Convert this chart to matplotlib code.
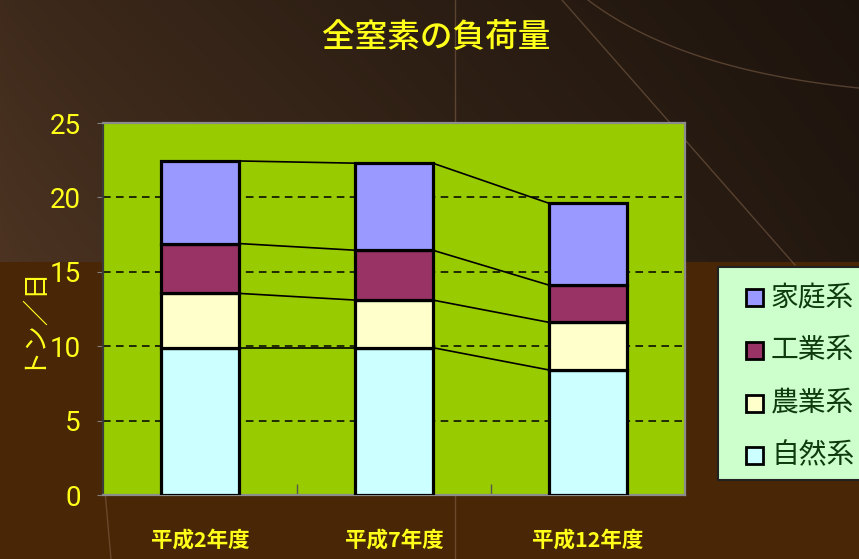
import numpy as np
import matplotlib
matplotlib.use("Agg")
import matplotlib.pyplot as plt
from matplotlib.patches import Rectangle

# ---- data -------------------------------------------------------------
years = ['平成2年度', '平成7年度', '平成12年度']
series_names = ['自然系', '農業系', '工業系', '家庭系']
natural = [9.9, 9.9, 8.4]
agriculture = [3.65, 3.2, 3.2]
industry = [3.35, 3.35, 2.5]
household = [5.55, 5.85, 5.5]
series_colors = ['#CCFFFF', '#FFFFCC', '#993366', '#9999FF']
y_ticks = [0, 5, 10, 15, 20, 25]

CJK = ['Noto Sans CJK JP', 'DejaVu Sans']
DIGITS = ['Roboto', 'DejaVu Sans']
YELLOW = '#FFFF1A'

W, H = 859, 559
fig = plt.figure(figsize=(W / 100, H / 100), dpi=100)

# ---- background --------------------------------------------------------
bg = fig.add_axes([0, 0, 1, 1], zorder=-5)
bg.set_xlim(0, W)
bg.set_ylim(H, 0)
bg.axis('off')
xx = np.linspace(0, 1, W)[None, :, None]
yy = np.linspace(0, 1, 262)[:, None, None]
left_c = np.array([0x4d, 0x34, 0x22]) / 255
right_c = np.array([0x23, 0x18, 0x10]) / 255
upper = left_c * (1 - xx ** 0.8) + right_c * xx ** 0.8
upper = upper * (0.82 + 0.18 * yy)
lower = np.ones((H - 262, W, 3)) * (np.array([0x48, 0x26, 0x06]) / 255)
img = np.concatenate([np.broadcast_to(upper, (262, W, 3)), lower], axis=0)
bg.imshow(np.clip(img, 0, 1), extent=(0, W, H, 0), aspect='auto')

# faint decorative strokes
deco = dict(color='#8a6a50', lw=1.0, alpha=0.5)
bg.plot([562, 795], [0, 265], **deco)
bg.plot([455, 455], [0, 559], **deco)
bg.plot([104, 111], [480, 559], **deco)
t = np.linspace(0, 1, 60)
p0, p1, p2 = np.array([588, 0]), np.array([680, 70]), np.array([859, 88])
curve = (1 - t)[:, None] ** 2 * p0 + 2 * ((1 - t) * t)[:, None] * p1 + t[:, None] ** 2 * p2
bg.plot(curve[:, 0], curve[:, 1], **deco)

# ---- chart -------------------------------------------------------------
ax = fig.add_axes([103 / W, 1 - 495 / H, 582 / W, 372 / H])
ax.set_facecolor('#99CC00')

x = np.arange(len(years))
width = 0.40
stack = [natural, agriculture, industry, household]
bottom = np.zeros(len(years))
tops = []
for vals, col in zip(stack, series_colors):
    vals = np.asarray(vals)
    ax.bar(x, vals, width, bottom=bottom, color=col, edgecolor='black',
           linewidth=2.3, zorder=3)
    bottom = bottom + vals
    tops.append(bottom.copy())

# series lines joining neighbouring bars
for top in tops:
    for i in range(len(years) - 1):
        ax.plot([x[i] + width / 2, x[i + 1] - width / 2], [top[i], top[i + 1]],
                color='black', lw=1.2, zorder=2)

ax.set_xlim(-0.5, len(years) - 0.5)
ax.set_ylim(0, 25)
ax.set_yticks(y_ticks)
ax.set_yticklabels([str(v) for v in y_ticks], color=YELLOW, fontsize=20,
                   family=DIGITS)
for v in y_ticks[1:-1]:
    ax.axhline(v, color='black', lw=1.1, ls=(0, (5, 3.5)), zorder=1)

ax.set_xticks(x)
ax.set_xticklabels(years, color=YELLOW, fontsize=15.5, fontweight='bold',
                   family=CJK)
ax.tick_params(axis='x', length=0, pad=25)
ax.set_xticks(x[:-1] + 0.5, minor=True)
ax.tick_params(axis='x', which='minor', direction='in', length=8,
               color='#555555', width=1)
ax.tick_params(axis='y', length=4, color='#808080', pad=12)

for side in ['top', 'right', 'bottom']:
    ax.spines[side].set_color('#8c8c8c')
    ax.spines[side].set_linewidth(1.6)
ax.spines['left'].set_color('#3a3a3a')
ax.spines['left'].set_linewidth(1.6)

fig.text(30 / W, 1 - 316 / H, 'トン／日', rotation=90, ha='center', va='center',
         color=YELLOW, fontsize=19, family=CJK)

fig.text(436 / W, 1 - 38 / H, '全窒素の負荷量', ha='center', va='center',
         color=YELLOW, fontsize=23.5, fontweight='medium', family=CJK)

# ---- legend box --------------------------------------------------------
fig.patches.append(Rectangle((718 / W, 1 - 480 / H), 160 / W, 213 / H,
                             transform=fig.transFigure, facecolor='#CCFFCC',
                             edgecolor='#222222', lw=1.5, zorder=5))
rows_y = [297, 350, 403, 455]
for name, col, ry in zip(series_names[::-1], series_colors[::-1], rows_y):
    fig.patches.append(Rectangle((746 / W, 1 - (ry + 9) / H), 17 / W, 17 / H,
                                 transform=fig.transFigure, facecolor=col,
                                 edgecolor='black', lw=2.0, zorder=6))
    fig.text(771 / W, 1 - ry / H, name, ha='left', va='center',
             color='#0E3A0E', fontsize=20, family=CJK, zorder=7)

fig.savefig('out.png', dpi=100)
